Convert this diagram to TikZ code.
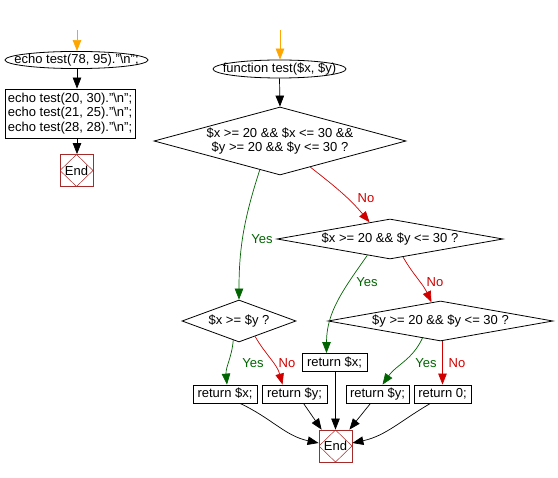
\documentclass[tikz,border=0pt]{standalone}
\usepackage{fontspec}
\setmainfont{Liberation Sans}
\usetikzlibrary{arrows.meta,shapes.geometric,calc}
\definecolor{ygreen}{HTML}{006400}
\definecolor{nred}{HTML}{D00000}
\definecolor{startor}{HTML}{FFA500}
\definecolor{endbr}{HTML}{A52A2A}
\tikzset{
  every node/.style={font=\fontsize{13}{14.5}\selectfont, inner sep=0pt},
  box/.style={draw, rectangle, line width=0.8pt, minimum height=18pt},
  dec/.style={draw, diamond, line width=0.8pt},
  term/.style={draw, ellipse, line width=0.8pt},
  endbox/.style={draw=endbr, rectangle, line width=0.8pt, minimum width=33pt, minimum height=32pt,
    path picture={\draw[endbr, line width=0.5pt] (path picture bounding box.north) -- (path picture bounding box.east) -- (path picture bounding box.south) -- (path picture bounding box.west) -- cycle;}},
  arr/.style={line width=0.7pt, -{Triangle[length=11pt,width=8.5pt]}},
  yesarr/.style={arr, draw=ygreen},
  noarr/.style={arr, draw=nred},
  ylab/.style={text=ygreen},
  nlab/.style={text=nred},
}
\begin{document}
\begin{tikzpicture}[x=1pt,y=-1pt]
\useasboundingbox (0,0) rectangle (558,478);

% left column
\coordinate (s1) at (77,30);
\node[term, minimum width=143pt, minimum height=17pt] (e1) at (76.5,60) {\makebox[0pt]{echo test(78, 95).\char`\"\textbackslash n\char`\";}};
\node[box, minimum width=130pt, minimum height=49pt, align=left] (r0l) at (70,113.5)
  {echo test(20, 30).\char`\"\textbackslash n\char`\";\\echo test(21, 25).\char`\"\textbackslash n\char`\";\\echo test(28, 28).\char`\"\textbackslash n\char`\";};
\node[endbox] (end1) at (76.5,170.5) {End};

\draw[arr, draw=startor] (s1) -- (s1 |- e1.north);
\draw[arr] (s1 |- e1.south) -- (s1 |- r0l.north);
\draw[arr] (s1 |- r0l.south) -- (s1 |- end1.north);

% right part
\coordinate (s2) at (280,30);
\node[term, minimum width=133pt, minimum height=18pt] (e2) at (279.5,69) {\makebox[0pt]{function test(\$x, \$y)}};
\node[dec, minimum width=252pt, minimum height=68pt] (d1) at (280,141)
  {\makebox[0pt]{\shortstack{\$x >= 20 \&\& \$x <= 30 \&\&\\\$y >= 20 \&\& \$y <= 30 ?}}};
\node[dec, minimum width=226pt, minimum height=40pt] (d2) at (390,239) {\makebox[0pt]{\$x >= 20 \&\& \$y <= 30 ?}};
\node[dec, minimum width=114pt, minimum height=42pt] (d3) at (239,321) {\makebox[0pt]{\$x >= \$y ?}};
\node[dec, minimum width=225pt, minimum height=40pt] (d4) at (440.5,321) {\makebox[0pt]{\$y >= 20 \&\& \$y <= 30 ?}};

\node[box, minimum width=65pt] (rx) at (334.5,362.5) {return \$x;};
\node[box, minimum width=64pt] (ra) at (225,394) {return \$x;};
\node[box, minimum width=65pt] (rb) at (294.5,394) {return \$y;};
\node[box, minimum width=63pt] (rc) at (377.5,394) {return \$y;};
\node[box, minimum width=57pt] (rd) at (442.5,394) {return 0;};
\node[endbox] (end2) at (335.5,446) {End};

\draw[arr, draw=startor] (s2) -- (s2 |- e2.north);
\draw[arr] (e2.south) -- (d1.north);

\draw[yesarr] ($(d1.west)!0.84!(d1.south)$) to[out=-108,in=90] (d3.north);
\draw[noarr] ($(d1.south)!0.24!(d1.east)$) to[out=-38,in=130] ($(d2.north)!0.18!(d2.west)$);
\node[ylab] (l1) at (262,239) {Yes};
\node[nlab] (l2) at (366,198) {No};

\draw[yesarr] ($(d2.west)!0.8!(d2.south)$) to[out=-125,in=90] ([xshift=-8pt]rx.north);
\draw[noarr] ($(d2.south)!0.115!(d2.east)$) to[out=-60,in=115] ($(d4.north)!0.08!(d4.west)$);
\node[ylab] (l3) at (367,282) {Yes};
\node[nlab] (l4) at (435,282) {No};

\draw[yesarr] ($(d3.west)!0.9!(d3.south)$) to[out=-95,in=95] ([xshift=2pt]ra.north);
\draw[noarr] ($(d3.south)!0.28!(d3.east)$) to[out=-60,in=105] ([xshift=-12pt]rb.north);
\node[ylab] (l5) at (253,363) {Yes};
\node[nlab] (l6) at (287,363) {No};

\draw[yesarr] ($(d4.west)!0.84!(d4.south)$) to[out=-115,in=55] ([xshift=5pt]rc.north);
\draw[noarr] (d4.south -| rd.north) -- (rd.north);
\node[ylab] (l7) at (426,363) {Yes};
\node[nlab] (l8) at (457,363) {No};

\draw[arr] ([xshift=15pt]ra.south) to[out=-25,in=168] ([yshift=3pt]end2.west);
\draw[arr] ([xshift=9pt]rb.south) -- ([xshift=3pt]end2.north west);
\draw[arr] (rx.south -| end2.north) -- (end2.north);
\draw[arr] ([xshift=-7pt]rc.south) -- ([xshift=-3pt]end2.north east);
\draw[arr] ([xshift=-12pt]rd.south) to[out=-150,in=12] ([yshift=3pt]end2.east);
\end{tikzpicture}
\end{document}
